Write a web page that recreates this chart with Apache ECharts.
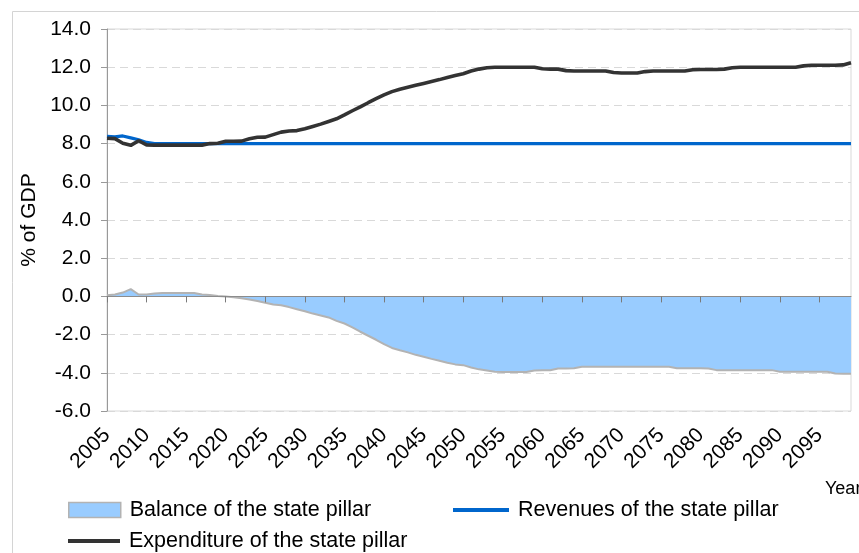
<!DOCTYPE html>
<html>
<head>
<meta charset="utf-8">
<script src="https://cdn.jsdelivr.net/npm/echarts@6/dist/echarts.min.js"></script>
<style>
html,body{margin:0;padding:0;background:#fff;}
#chart{width:859px;height:553px;}
</style>
</head>
<body>
<div id="chart"></div>
<script>
var years = [2005,2006,2007,2008,2009,2010,2011,2012,2013,2014,2015,2016,2017,2018,2019,2020,2021,2022,2023,2024,
2025,2026,2027,2028,2029,2030,2031,2032,2033,2034,2035,2036,2037,2038,2039,2040,2041,2042,2043,2044,
2045,2046,2047,2048,2049,2050,2051,2052,2053,2054,2055,2056,2057,2058,2059,2060,2061,2062,2063,2064,
2065,2066,2067,2068,2069,2070,2071,2072,2073,2074,2075,2076,2077,2078,2079,2080,2081,2082,2083,2084,
2085,2086,2087,2088,2089,2090,2091,2092,2093,2094,2095,2096,2097,2098,2099];

var balance = [0.06,0.1,0.2,0.38,0.1,0.1,0.15,0.18,0.18,0.18,0.18,0.18,0.1,0.07,0.02,-0.01,-0.04,-0.1,-0.16,-0.24,
-0.33,-0.42,-0.46,-0.56,-0.67,-0.78,-0.9,-1.0,-1.1,-1.28,-1.42,-1.62,-1.85,-2.06,-2.27,-2.5,-2.7,-2.82,-2.93,-3.06,
-3.16,-3.27,-3.37,-3.47,-3.56,-3.6,-3.72,-3.82,-3.88,-3.94,-3.96,-3.96,-3.96,-3.96,-3.88,-3.87,-3.87,-3.78,-3.77,-3.76,
-3.68,-3.68,-3.68,-3.68,-3.68,-3.68,-3.68,-3.68,-3.68,-3.68,-3.68,-3.68,-3.76,-3.76,-3.76,-3.76,-3.77,-3.86,-3.86,-3.86,
-3.86,-3.86,-3.86,-3.86,-3.86,-3.94,-3.94,-3.94,-3.94,-3.94,-3.94,-3.94,-4.04,-4.05,-4.05];

var revenues = [8.38,8.35,8.4,8.3,8.2,8.06,8.0,8.0,8.0,8.0,8.0,8.0,8.0,8.0,8.0,8.0,8.0,8.0,8.0,8.0,
8.0,8.0,8.0,8.0,8.0,8.0,8.0,8.0,8.0,8.0,8.0,8.0,8.0,8.0,8.0,8.0,8.0,8.0,8.0,8.0,
8.0,8.0,8.0,8.0,8.0,8.0,8.0,8.0,8.0,8.0,8.0,8.0,8.0,8.0,8.0,8.0,8.0,8.0,8.0,8.0,
8.0,8.0,8.0,8.0,8.0,8.0,8.0,8.0,8.0,8.0,8.0,8.0,8.0,8.0,8.0,8.0,8.0,8.0,8.0,8.0,
8.0,8.0,8.0,8.0,8.0,8.0,8.0,8.0,8.0,8.0,8.0,8.0,8.0,8.0,8.0];

var expenditure = [8.28,8.26,8.02,7.91,8.15,7.93,7.92,7.92,7.92,7.92,7.92,7.92,7.92,8.0,8.02,8.12,8.12,8.13,8.25,8.33,
8.34,8.47,8.6,8.66,8.68,8.78,8.9,9.02,9.16,9.3,9.5,9.72,9.92,10.14,10.35,10.55,10.72,10.85,10.95,11.05,
11.15,11.25,11.35,11.46,11.56,11.66,11.8,11.9,11.97,12.0,12.0,12.0,12.0,12.0,12.0,11.92,11.9,11.9,11.82,11.8,
11.8,11.8,11.8,11.8,11.72,11.7,11.7,11.7,11.77,11.8,11.8,11.8,11.8,11.8,11.87,11.88,11.88,11.88,11.9,11.97,
12.0,12.0,12.0,12.0,12.0,12.0,12.0,12.0,12.07,12.1,12.1,12.1,12.1,12.12,12.23];

var seriesNames = ['Balance of the state pillar','Revenues of the state pillar','Expenditure of the state pillar'];
var yTicks = {min:-6, max:14, step:2};
var xAxisTitle = 'Year';
var yAxisTitle = '% of GDP';

var FONT = '"Liberation Sans", Arial, sans-serif';
var chart = echarts.init(document.getElementById('chart'), null, {renderer:'canvas'});
var legendText = {fontSize:21.5, color:'#000', fontFamily:FONT, padding:[0,0,0,4]};

chart.setOption({
  animation:false,
  backgroundColor:'#fff',
  graphic:[
    {type:'rect', left:10, top:9, shape:{width:900, height:600}, style:{fill:'none', stroke:'#d4d4d4', lineWidth:1}, silent:true, z:-10},
    {type:'text', left:825, top:480, style:{text:xAxisTitle, fontSize:18, fontFamily:FONT, fill:'#000'}}
  ],
  grid:[
    {left:107, right:8, top:29, bottom:142, show:true, borderColor:'#d9d9d9', borderWidth:1, backgroundColor:'transparent'},
    {left:107, right:8, top:29, bottom:142, show:false, z:50}
  ],
  legend:[
    {left:68, top:499, padding:0, selectedMode:false, itemWidth:52, itemHeight:15, textStyle:legendText,
     data:[{name:seriesNames[0], icon:'rect', itemStyle:{color:'#99ccff', borderColor:'#b3b3b3', borderWidth:1.5}}]},
    {left:453, top:499, padding:0, selectedMode:false, itemWidth:56, itemHeight:4, textStyle:legendText,
     data:[{name:seriesNames[1], icon:'rect', itemStyle:{color:'#0066cc'}}]},
    {left:68, top:530, padding:0, selectedMode:false, itemWidth:52, itemHeight:4, textStyle:legendText,
     data:[{name:seriesNames[2], icon:'rect', itemStyle:{color:'#333333'}}]}
  ],
  xAxis:[
    {type:'category', gridIndex:0, data:years, boundaryGap:false, position:'bottom',
     axisLine:{show:false, onZero:false}, axisTick:{show:false},
     axisLabel:{interval:4, rotate:45, margin:21, fontSize:21, color:'#000', fontFamily:FONT},
     splitLine:{show:false}},
    {type:'category', gridIndex:1, data:years, boundaryGap:false, position:'bottom', z:50,
     axisLine:{show:true, onZero:true, lineStyle:{color:'#8c8c8c', width:1}},
     axisTick:{show:true, interval:4, length:6, inside:false, lineStyle:{color:'#7a7a7a', width:1}},
     axisLabel:{show:false}, splitLine:{show:false}}
  ],
  yAxis:[
    {type:'value', gridIndex:0, min:yTicks.min, max:yTicks.max, interval:yTicks.step,
    name:yAxisTitle, nameLocation:'middle', nameGap:66,
    nameTextStyle:{fontSize:21, color:'#000', fontFamily:FONT},
    axisLine:{show:true, lineStyle:{color:'#999', width:1}},
    axisTick:{show:true, length:6, lineStyle:{color:'#999'}},
    axisLabel:{margin:16, fontSize:21, color:'#000', fontFamily:FONT, formatter:function(v){return v.toFixed(1);}},
    splitLine:{show:true, lineStyle:{color:'#d9d9d9', type:[8,5], width:1}}},
    {type:'value', gridIndex:1, min:yTicks.min, max:yTicks.max, interval:yTicks.step, z:50,
     axisLine:{show:false}, axisTick:{show:false}, axisLabel:{show:false}, splitLine:{show:false}}
  ],
  series:[
    {name:seriesNames[0], type:'line', xAxisIndex:0, yAxisIndex:0, data:balance, showSymbol:false, symbol:'none',
     lineStyle:{color:'#b3b3b3', width:2}, itemStyle:{color:'#99ccff'},
     areaStyle:{color:'#99ccff', opacity:1, origin:0}, z:1},
    {name:seriesNames[1], type:'line', xAxisIndex:0, yAxisIndex:0, data:revenues, showSymbol:false, symbol:'none',
     lineStyle:{color:'#0066cc', width:3.2}, itemStyle:{color:'#0066cc'}, z:2},
    {name:seriesNames[2], type:'line', xAxisIndex:0, yAxisIndex:0, data:expenditure, showSymbol:false, symbol:'none',
     lineStyle:{color:'#333333', width:3.6}, itemStyle:{color:'#333333'}, z:3}
  ]
});
</script>
</body>
</html>
